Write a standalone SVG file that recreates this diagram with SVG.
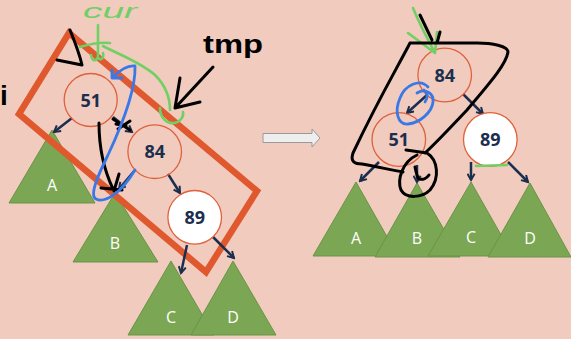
<svg xmlns="http://www.w3.org/2000/svg" width="571" height="339" viewBox="0 0 571 339">
<defs>
<marker id="ah" viewBox="0 0 10 10" refX="8" refY="5" markerWidth="9" markerHeight="9" markerUnits="userSpaceOnUse" orient="auto">
<path d="M1,1 L8,5 L1,9" fill="none" stroke="#1C2E4E" stroke-width="2.2"/>
</marker>
<style>
.tri{fill:#7BA755;stroke:#6A9346;stroke-width:1}
.tl{fill:#FFFFFF;font-family:"Open Sans","Liberation Sans",sans-serif;font-size:16px;text-anchor:middle}
.nd{fill:none;stroke:#E0603C;stroke-width:1.3}
.nw{fill:#FFFFFF;stroke:#E0603C;stroke-width:1.3}
.nt{fill:#1C2E4E;font-family:"Open Sans","Liberation Sans",sans-serif;font-size:18px;font-weight:700;text-anchor:middle}
.ed{stroke:#1C2E4E;stroke-width:2.5;fill:none;marker-end:url(#ah)}
.ink{fill:none;stroke-linecap:round;stroke-linejoin:round}
.blk{stroke:#000;stroke-width:3}
.grn{stroke:#72CF66;stroke-width:2.6}
.blu{stroke:#3A78E8;stroke-width:2.8}
</style>
</defs>
<rect width="571" height="339" fill="#F1CCBE"/>

<!-- left subtrees -->
<g id="left-A"><polygon class="tri" points="52,130 9,203 95,203"/><text class="tl" x="52" y="191">A</text></g>
<g id="left-B"><polygon class="tri" points="115,193 73,262 158,262"/><text class="tl" x="115" y="249">B</text></g>
<g id="left-C"><polygon class="tri" points="171,261 128,335 214,335"/><text class="tl" x="171" y="323">C</text></g>
<g id="left-D"><polygon class="tri" points="233,261 191,335 276,335"/><text class="tl" x="233" y="323">D</text></g>

<!-- orange frame -->
<polygon points="69,33 19,114 206,272 257,191" fill="none" stroke="#E0582E" stroke-width="6.5" stroke-linejoin="miter"/>

<!-- right subtrees -->
<g id="right-A"><polygon class="tri" points="356,182 313,256 398,256"/><text class="tl" x="356" y="244">A</text></g>
<g id="right-B"><polygon class="tri" points="417,183 375,257 460,257"/><text class="tl" x="417" y="244">B</text></g>
<g id="right-C"><polygon class="tri" points="471,182 428,256 513,256"/><text class="tl" x="471" y="243">C</text></g>
<g id="right-D"><polygon class="tri" points="530,183 488,257 571,257"/><text class="tl" x="530" y="244">D</text></g>

<!-- transition arrow -->
<polygon points="263,133.5 312,133.5 312,129 320,138 312,147 312,142.5 263,142.5" fill="#EEEEEE" stroke="#9A9A9A" stroke-width="1"/>

<g id="connectors">
<line class="ed" x1="72" y1="118" x2="54" y2="132"/>
<line class="ed" x1="113" y1="117" x2="132" y2="132"/>
<line class="ed" x1="135" y1="170" x2="119" y2="189"/>
<line class="ed" x1="168" y1="174" x2="180" y2="193"/>
<line class="ed" x1="187" y1="245" x2="181" y2="273"/>
<line class="ed" x1="213" y1="237" x2="234" y2="258"/>
<line class="ed" x1="427" y1="95" x2="407" y2="113"/>
<line class="ed" x1="463" y1="94" x2="483" y2="114"/>
<line class="ed" x1="379" y1="162" x2="360" y2="181"/>
<line class="ed" x1="417" y1="165" x2="417" y2="182"/>
<line class="ed" x1="471" y1="162" x2="471" y2="180"/>
<line class="ed" x1="508" y1="162" x2="528" y2="182"/>
</g>

<!-- left nodes -->
<g id="left-51"><circle class="nd" cx="90.7" cy="100" r="26.5"/><text class="nt" x="90.7" y="106.5">51</text></g>
<g id="left-84"><circle class="nd" cx="154.7" cy="151.7" r="26.8"/><text class="nt" x="154.7" y="158">84</text></g>
<g id="left-89"><circle class="nw" cx="194.7" cy="217.3" r="26.8"/><text class="nt" x="194.7" y="223.8">89</text></g>

<!-- right nodes -->
<g id="right-84"><circle class="nd" cx="444.7" cy="75" r="26.8"/><text class="nt" x="444.7" y="81.5">84</text></g>
<g id="right-51"><circle class="nd" cx="398.8" cy="139.5" r="26.8"/><text class="nt" x="398.8" y="146">51</text></g>
<g id="right-89"><circle class="nw" cx="490.3" cy="139.5" r="26.8"/><text class="nt" x="490.3" y="146">89</text></g>

<!-- handwritten annotations -->
<text x="83" y="18" textLength="54" lengthAdjust="spacingAndGlyphs" fill="#72CF66" font-family="'Liberation Sans',sans-serif" font-style="italic" font-size="21">cur</text>
<text x="203" y="53" textLength="60" lengthAdjust="spacingAndGlyphs" fill="#000" font-family="'Liberation Sans',sans-serif" font-weight="700" font-size="26">tmp</text>
<text x="0" y="105" fill="#000" font-family="'Liberation Sans',sans-serif" font-weight="700" font-size="28">i</text>

<path class="ink grn" d="M98,25 L98,57 C96,62 92,61 91,55 M98,58 C101,61 104,58 103,53 M80,47 C90,44 100,42 110,43 M103,46 C120,55 140,62 155,75 C165,85 170,98 170,110 M160,108 C160,118 167,124 174,123 C180,122 184,117 183,112"/>
<path class="ink blk" d="M70,30 C74,40 79,52 82,65 L57,60 M213,67 L175,108 M180,78 L175,108 L200,102 M99,123 C99,145 104,170 113,189 M101,188 L122,190 M119,174 L114,191 M113,119 L130,130 M118,129 L130,121 M116,124 L126,126"/>
<path class="ink blu" d="M112,70 L112,78 L122,78 M113,77 C119,71 127,65 135,66 C136,90 122,125 108,155 C98,175 89,196 96,199 C104,203 120,195 135,170"/>

<path class="ink grn" d="M413,8 C420,25 428,40 435,53 M408,33 L435,53 L437,32 M476,166 L507,165"/>
<path class="ink blk" d="M420,15 L432,40 M440,32 L437,43 M410,43 L477,43 C492,43 508,46 508,52 C506,65 488,85 467,110 C450,128 436,143 425,153 M410,43 C396,70 378,100 353,153 C350,162 355,164 362,164 C378,167 392,170 403,172 M406,150 L427,153 C438,160 440,178 430,190 C422,198 406,199 401,190 C397,180 402,162 417,155 M415,167 C416,172 417,177 419,179 C423,180 427,178 429,175"/>
<path class="ink blu" d="M428,87 C420,78 405,85 400,98 C394,112 398,125 408,124 C420,123 432,112 433,102 C434,93 425,88 417,93 M424,90 C428,93 428,98 425,102"/>
</svg>
